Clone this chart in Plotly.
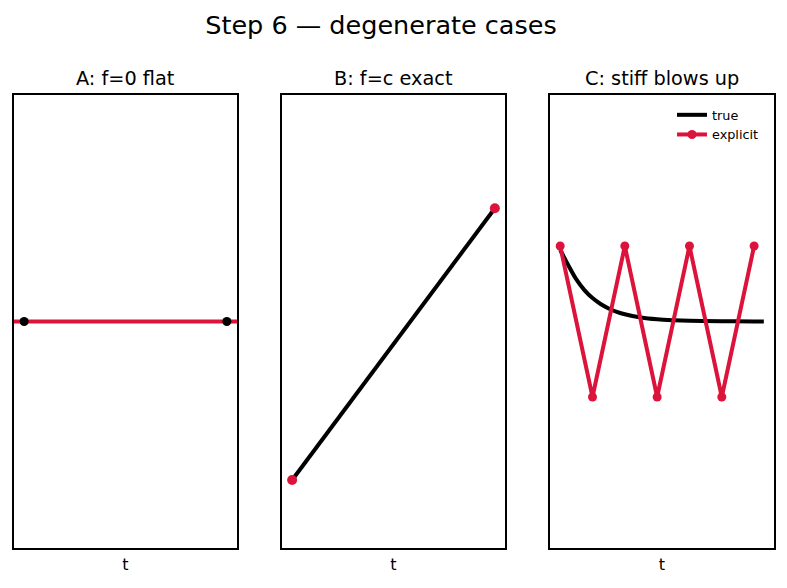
import plotly.graph_objects as go

# ---- data ----
tA = [0.0, 1.0]
yA = [0.0, 0.0]

tB = [0.0, 1.0]
yB = [-2.1, 1.5]

t_true = [0.0, 0.25, 0.5, 0.75, 1.0, 1.25, 1.5, 1.75, 2.0, 2.5, 3.0, 3.5, 4.0, 5.0, 6.0, 6.3]
y_true = [0.95, 0.746, 0.557, 0.416, 0.310, 0.232, 0.173, 0.129, 0.096, 0.054, 0.030,
          0.017, 0.009, 0.003, 0.001, 0.0006]
t_exp = [0, 1, 2, 3, 4, 5, 6]
y_exp = [1.0, -1.0, 1.0, -1.0, 1.0, -1.0, 1.0]

titles = ["A: f=0 flat", "B: f=c exact", "C: stiff blows up"]
xlabel = "t"

RED = "#DC143C"
W, H = 787, 588
FONT = "DejaVu Sans"

fig = go.Figure()

# Panel A
fig.add_trace(go.Scatter(x=tA, y=yA, mode="markers", marker=dict(color="black", size=9),
                         xaxis="x", yaxis="y", showlegend=False))
# Panel B
fig.add_trace(go.Scatter(x=tB, y=yB, mode="lines", line=dict(color="black", width=4),
                         xaxis="x2", yaxis="y2", showlegend=False))
fig.add_trace(go.Scatter(x=tB, y=yB, mode="markers", marker=dict(color=RED, size=10),
                         xaxis="x2", yaxis="y2", showlegend=False))
# Panel C
fig.add_trace(go.Scatter(x=t_true, y=y_true, mode="lines", line=dict(color="black", width=4, shape="spline"),
                         xaxis="x3", yaxis="y3", name="true"))
fig.add_trace(go.Scatter(x=t_exp, y=y_exp, mode="lines+markers", line=dict(color=RED, width=4),
                         marker=dict(color=RED, size=9), xaxis="x3", yaxis="y3", name="explicit"))

def px_x(a, b):
    return [a / W, b / W]

ydom = [1 - 548 / H, 1 - 95 / H]
xdoms = [px_x(14, 237), px_x(282, 505), px_x(550, 774)]
span_A = max(tA) - min(tA)
span_C = max(t_true) - min(t_true)
xranges = [[min(tA) - 0.05 * span_A, max(tA) + 0.05 * span_A],
           [min(tB) - 0.05 * span_A, max(tB) + 0.05 * span_A],
           [min(t_true) - 0.05 * span_C, max(t_true) + 0.05 * span_C]]

axis_common = dict(showline=True, linewidth=2, linecolor="black", mirror=True,
                   showticklabels=False, ticks="", showgrid=False, zeroline=False)

layout = dict(
    width=W, height=H, margin=dict(l=0, r=0, t=0, b=0),
    paper_bgcolor="white", plot_bgcolor="white",
    font=dict(family=FONT, color="black"),
    title=dict(text="Step 6 — degenerate cases", x=381 / W, xanchor="center",
               y=1 - 25 / H, yanchor="middle", font=dict(size=25.5, family=FONT)),
    legend=dict(x=672 / W, xanchor="left", y=1 - 100 / H, yanchor="top",
                bgcolor="rgba(0,0,0,0)", font=dict(size=12.8, family=FONT),
                itemwidth=30, tracegroupgap=0),
    annotations=[],
    shapes=[dict(type="line", xref="x domain", x0=0, x1=1, yref="y", y0=yA[0], y1=yA[0],
                 line=dict(color=RED, width=4), layer="below")],
)
for i in range(3):
    s = "" if i == 0 else str(i + 1)
    layout["xaxis" + s] = dict(domain=xdoms[i], range=xranges[i], anchor="y" + s,
                               title=dict(text=xlabel, font=dict(size=16), standoff=10), **axis_common)
    layout["yaxis" + s] = dict(domain=ydom, range=[-3, 3], anchor="x" + s, **axis_common)
    layout["annotations"].append(dict(text=titles[i], xref="paper", yref="paper",
                                      x=(xdoms[i][0] + xdoms[i][1]) / 2, y=1 - 78 / H,
                                      xanchor="center", yanchor="middle", showarrow=False,
                                      font=dict(size=19.3, family=FONT)))
fig.update_layout(**layout)

fig.write_html("out.html")
